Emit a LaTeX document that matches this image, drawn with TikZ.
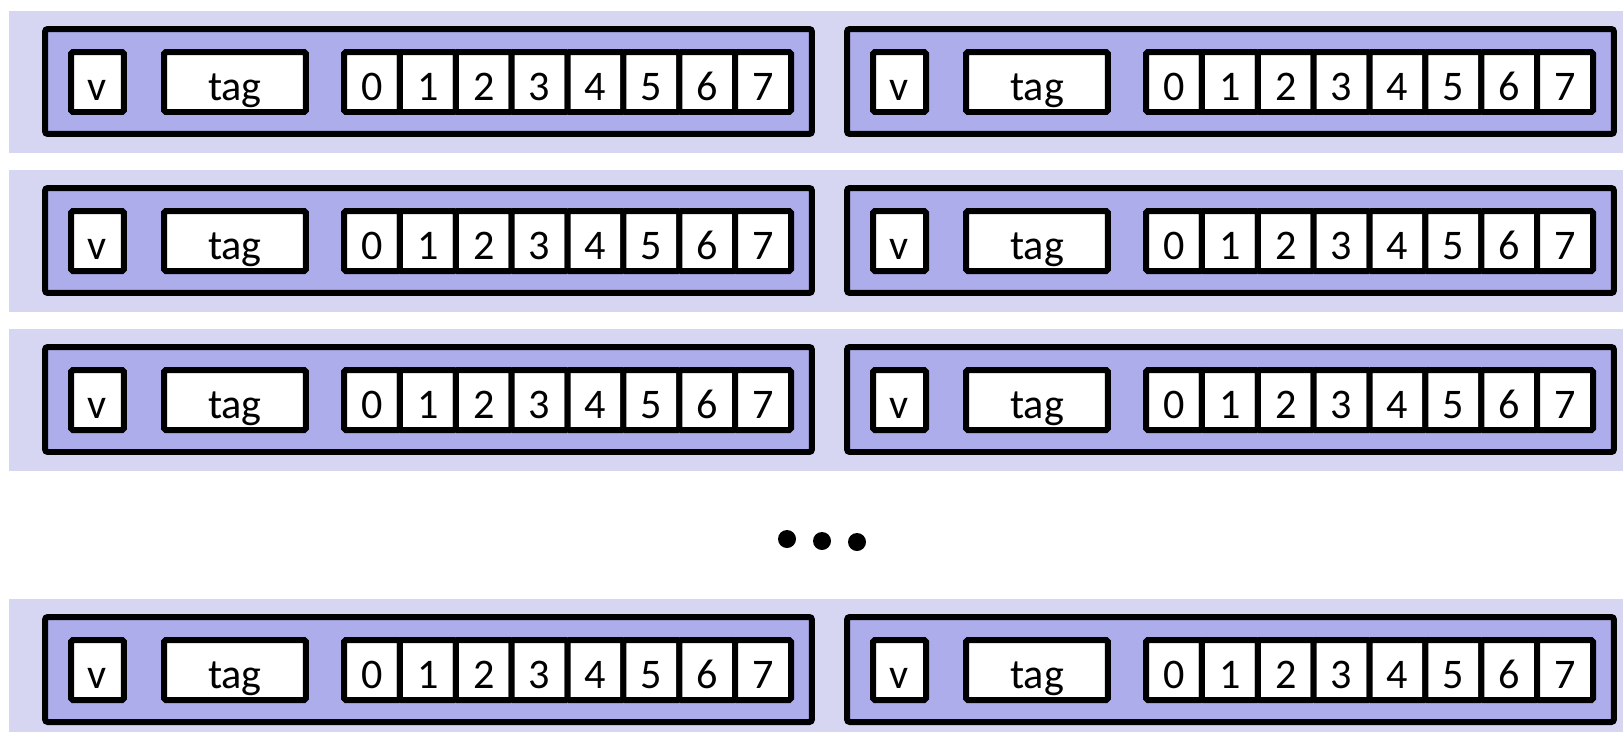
\documentclass[tikz,border=0pt]{standalone}
\usepackage{fontspec}
\setmainfont{Carlito}
\usetikzlibrary{positioning}
\definecolor{Band}{HTML}{D6D6F3}
\definecolor{Slot}{HTML}{ADADEB}
\tikzset{slot/.style={rectangle,draw=black,line width=0.12cm,fill=Slot,rounded corners=1.5pt,minimum width=15.34cm,minimum height=2.1cm,inner sep=0pt,outer sep=0pt},field/.style={rectangle,draw=black,line width=0.12cm,fill=white,rounded corners=1pt,minimum height=1.2cm,inner sep=0pt,outer sep=0pt,text height=0.72cm,text depth=0pt},vbox/.style={field,minimum width=1.06cm},tagbox/.style={field,minimum width=2.84cm},cell/.style={field,minimum width=1.1175cm},dot/.style={circle,fill=black,minimum size=0.36cm,inner sep=0pt}}

\begin{document}
\begin{tikzpicture}[x=0.02cm,y=-0.02cm,font=\fontsize{24}{28}\selectfont]
\useasboundingbox (0,0) rectangle (1623,731);
\clip (0,0) rectangle (1623,731);
\foreach \rw/\ry in {1/11,2/170,3/329,4/599}{
\fill[Band] (9,\ry) rectangle (1640,\ry+142);
\foreach \bx/\ox in {1/42,2/844}{
\node[slot] (slot-\rw-\bx) at (\ox+386.5,\ry+70.5) {};
\node[vbox] (v-\rw-\bx) at (\ox+55.5,\ry+71) {v};
\node[tagbox] (tag-\rw-\bx) at (\ox+193,\ry+71) {tag};
\foreach \i in {0,...,7}
\node[cell] (cell-\rw-\bx-\i) at (\ox+329.94+55.875*\i,\ry+71) {\i};
}}
\node[dot] (dot1) at (787,539) {};\node[dot] (dot2) at (822,541) {};\node[dot] (dot3) at (857,542) {};
\end{tikzpicture}
\end{document}
